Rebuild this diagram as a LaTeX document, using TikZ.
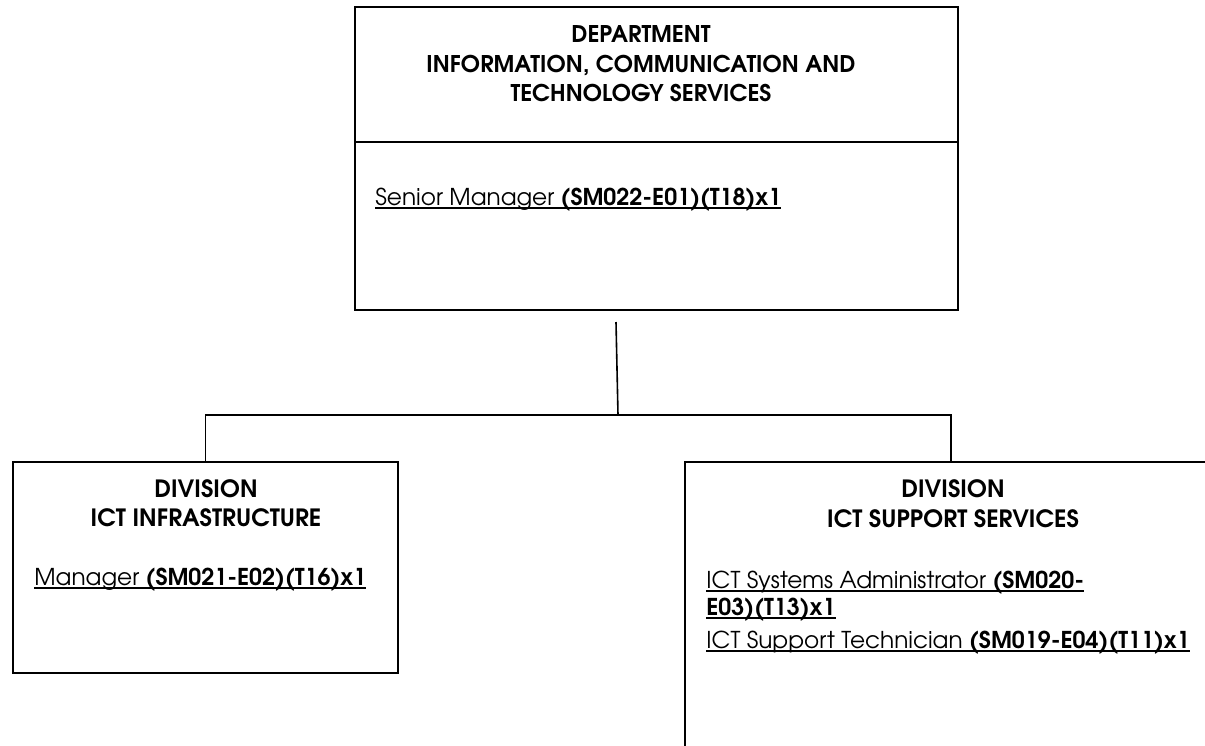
\documentclass[tikz,border=0pt]{standalone}
\usepackage{fontspec}
\setmainfont{TeX Gyre Adventor}
\newcommand{\ulpost}[1]{\setbox0\hbox{#1}\rlap{\rule[-2pt]{\wd0}{0.8pt}}\box0}
\begin{document}
\begin{tikzpicture}[x=0.5pt,y=-0.5pt]
	\tikzstyle{unit}=[draw=black,line width=1pt,inner sep=0pt]
	\tikzstyle{heading}=[font=\bfseries\fontsize{11.5}{14}\selectfont,anchor=base,inner sep=0pt]
	\tikzstyle{subheading}=[font=\bfseries\fontsize{11.9}{14}\selectfont,anchor=base,inner sep=0pt]
	\tikzstyle{post}=[font=\fontsize{11.6}{14}\selectfont,anchor=base west,inner sep=0pt]
	\tikzstyle{edge}=[draw,line width=0.8pt]
	\clip (0,0) rectangle (1205,745);
	\begin{scope}
		% department
		\node [unit,minimum width=301.5pt,minimum height=67.5pt] (depthead) at (656.5,74.5) {};
		\node [unit,minimum width=301.5pt,minimum height=84pt] (deptbody) at (656.5,226) {};
		\node [heading] (dept1) at (641,42) {DEPARTMENT};
		\node [heading] (dept2) at (641,72) {INFORMATION, COMMUNICATION AND};
		\node [heading] (dept3) at (641,101) {TECHNOLOGY SERVICES};
		\node [post] (sm) at (375,205) {\ulpost{Senior Manager \textbf{(SM022-E01)(T18)x1}}};
		% divisions
		\node [unit,minimum width=192.5pt,minimum height=105.5pt] (infra) at (205.5,567.5) {};
		\node [subheading] (infra1) at (206,497) {DIVISION};
		\node [subheading] (infra2) at (206,526) {ICT INFRASTRUCTURE};
		\node [post] (mgr) at (34,585) {\ulpost{Manager \textbf{(SM021-E02)(T16)x1}}};
		\node [unit,minimum width=266pt,minimum height=169pt] (support) at (951,631) {};
		\node [subheading] (support1) at (953,497) {DIVISION};
		\node [subheading] (support2) at (953,527) {ICT SUPPORT SERVICES};
		\node [post] (admin1) at (706,588) {\ulpost{ICT Systems Administrator \textbf{(SM020-}}};
		\node [post] (admin2) at (706,615) {\ulpost{\textbf{E03)(T13)x1}}};
		\node [post] (tech) at (706,648) {\ulpost{ICT Support Technician \textbf{(SM019-E04)(T11)x1}}};
		% links
		\coordinate (stem) at (616,322);
		\coordinate (hub) at (618,415);
		\path[edge] (stem) -- (hub);
		\path[edge] (infra.north) |- (hub) -| (support.north);
	\end{scope}
\end{tikzpicture}
\end{document}
